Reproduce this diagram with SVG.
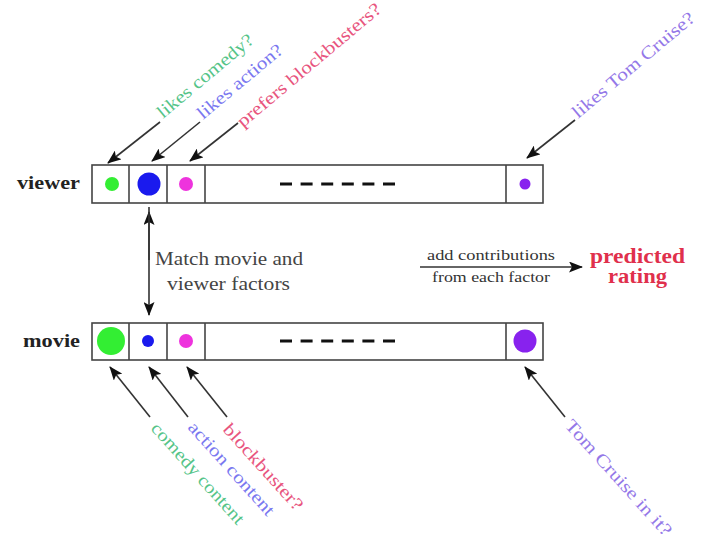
<svg xmlns="http://www.w3.org/2000/svg" width="711" height="539" viewBox="0 0 711 539">
<style>
text{font-family:"Liberation Serif","DejaVu Serif",serif}
.bar{fill:#fff;stroke:#444;stroke-width:1.6}
.div{stroke:#444;stroke-width:1.6}
.dash{stroke:#111;stroke-width:3;stroke-dasharray:12 8.6}
.arr{stroke:#333;stroke-width:1.6;fill:none;marker-end:url(#ah)}
.lbl{font-size:19px;font-weight:bold;fill:#222}
.gray{font-size:18px;fill:#444}
.small{font-size:14.5px;fill:#333}
.red{font-size:20px;font-weight:bold;fill:#e0304c}
.rot{font-size:18px}
</style>
<defs>
<marker id="ah" markerUnits="userSpaceOnUse" markerWidth="14" markerHeight="11" refX="13" refY="5.5" orient="auto-start-reverse" viewBox="0 0 14 11">
<path d="M0,0 L14,5.5 L0,11 L3,5.5 z" fill="#111"/>
</marker>
</defs>
<rect width="711" height="539" fill="#fff"/>
<g id="viewer">
<text class="lbl" x="17" y="189" textLength="63" lengthAdjust="spacingAndGlyphs">viewer</text>
<rect class="bar" x="92" y="165" width="451" height="38"/>
<line class="div" x1="129" y1="165" x2="129" y2="203"/>
<line class="div" x1="167" y1="165" x2="167" y2="203"/>
<line class="div" x1="205" y1="165" x2="205" y2="203"/>
<line class="div" x1="506" y1="165" x2="506" y2="203"/>
<line class="dash" x1="280" y1="184" x2="396" y2="184"/>
<circle cx="112" cy="184" r="7" fill="#33ee33"/>
<circle cx="149" cy="184" r="11.5" fill="#1a1aee"/>
<circle cx="186" cy="184" r="7" fill="#ee33dd"/>
<circle cx="525" cy="184" r="5.5" fill="#8822ee"/>
</g>
<g id="movie">
<text class="lbl" x="23" y="347" textLength="57" lengthAdjust="spacingAndGlyphs">movie</text>
<rect class="bar" x="92" y="323" width="451" height="37"/>
<line class="div" x1="129" y1="323" x2="129" y2="360"/>
<line class="div" x1="167" y1="323" x2="167" y2="360"/>
<line class="div" x1="205" y1="323" x2="205" y2="360"/>
<line class="div" x1="506" y1="323" x2="506" y2="360"/>
<line class="dash" x1="280" y1="341" x2="396" y2="341"/>
<circle cx="111" cy="341" r="14" fill="#33ee33"/>
<circle cx="148" cy="341" r="6" fill="#1a1aee"/>
<circle cx="186" cy="341" r="7" fill="#ee33dd"/>
<circle cx="525" cy="341" r="11.5" fill="#8822ee"/>
</g>
<g id="match-label">
<text class="gray" x="155" y="265" textLength="148" lengthAdjust="spacingAndGlyphs">Match movie and</text>
<text class="gray" x="167" y="290" textLength="123" lengthAdjust="spacingAndGlyphs">viewer factors</text>
</g>
<g id="add-label">
<text class="small" x="427" y="260" textLength="128" lengthAdjust="spacingAndGlyphs">add contributions</text>
<text class="small" x="432" y="282" textLength="118" lengthAdjust="spacingAndGlyphs">from each factor</text>
</g>
<g id="predicted-rating">
<text class="red" x="590" y="263" textLength="95" lengthAdjust="spacingAndGlyphs">predicted</text>
<text class="red" x="608" y="283" textLength="59" lengthAdjust="spacingAndGlyphs">rating</text>
</g>
<g id="viewer-labels">
<text class="rot" fill="#55c488" transform="translate(163,119) rotate(-40)" textLength="120" lengthAdjust="spacingAndGlyphs">likes comedy?</text>
<text class="rot" fill="#7a78f0" transform="translate(203,120) rotate(-40)" textLength="106" lengthAdjust="spacingAndGlyphs">likes action?</text>
<text class="rot" fill="#e8557e" transform="translate(243,128) rotate(-40)" textLength="182" lengthAdjust="spacingAndGlyphs">prefers blockbusters?</text>
<text class="rot" fill="#9478e8" transform="translate(578,119) rotate(-40)" textLength="154" lengthAdjust="spacingAndGlyphs">likes Tom Cruise?</text>
</g>
<g id="movie-labels">
<text class="rot" fill="#55c488" transform="translate(150,429) rotate(48)" textLength="130" lengthAdjust="spacingAndGlyphs">comedy content</text>
<text class="rot" fill="#7a78f0" transform="translate(187,428) rotate(48)" textLength="120" lengthAdjust="spacingAndGlyphs">action content</text>
<text class="rot" fill="#e8557e" transform="translate(222,430) rotate(48)" textLength="110" lengthAdjust="spacingAndGlyphs">blockbuster?</text>
<text class="rot" fill="#9478e8" transform="translate(564,426) rotate(48)" textLength="150" lengthAdjust="spacingAndGlyphs">Tom Cruise in it?</text>
</g>
<g id="connectors">
<line class="arr" x1="160" y1="122" x2="108" y2="163"/>
<line class="arr" x1="200" y1="122" x2="152" y2="161"/>
<line class="arr" x1="238" y1="123" x2="190" y2="161"/>
<line class="arr" x1="575" y1="120" x2="527" y2="158"/>
<line class="arr" x1="149" y1="212" x2="149" y2="315" style="marker-start:url(#ah)"/>
<line class="arr" x1="149" y1="260" x2="149" y2="207" style="marker-end:none"/>
<line class="arr" x1="420" y1="267" x2="582" y2="267"/>
<line class="arr" x1="150" y1="417" x2="110" y2="367"/>
<line class="arr" x1="188" y1="417" x2="149" y2="367"/>
<line class="arr" x1="227" y1="417" x2="187" y2="367"/>
<line class="arr" x1="565" y1="417" x2="525" y2="367"/>
</g>
</svg>
